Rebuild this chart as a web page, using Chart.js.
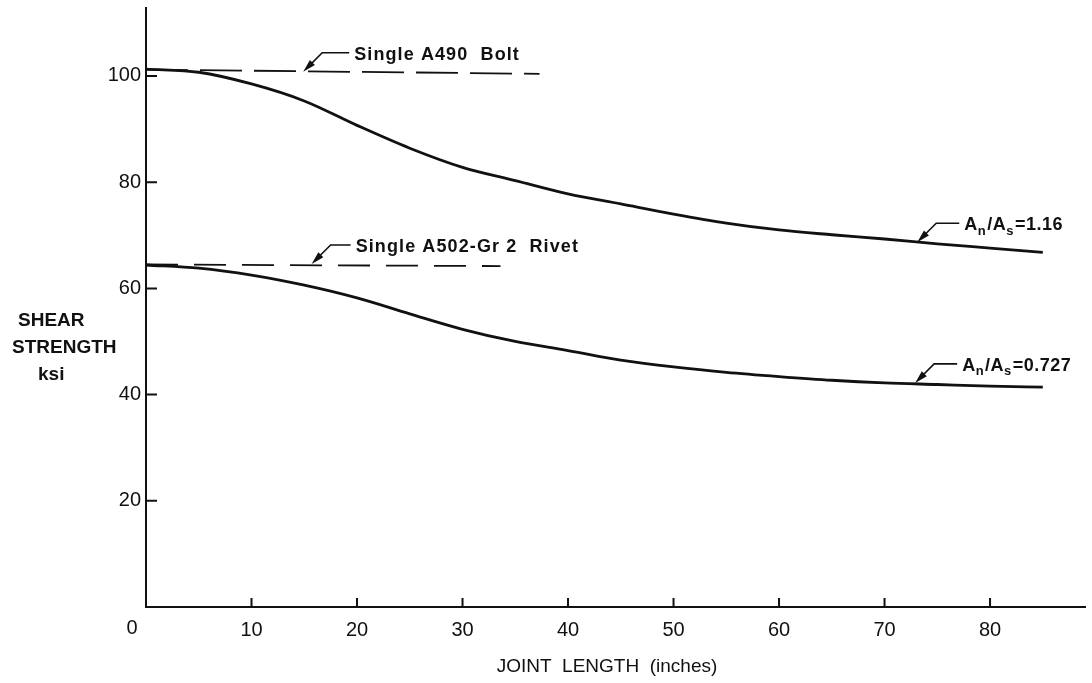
<!DOCTYPE html>
<html lang="en">
<head>
<meta charset="UTF-8">
<title>Shear Strength vs Joint Length</title>
<script src="https://cdn.jsdelivr.net/npm/chart.js"></script>
<style>
  body { margin: 0; background: #fff; }
  #wrap { width: 1092px; height: 683px; }
</style>
</head>
<body>
<div id="wrap"><canvas id="shearChart"></canvas></div>
<script>
// joint length (inches) where both curves were read
const jointLength = [0, 5, 10, 15, 20, 25, 30, 35, 40, 45, 50, 55, 60, 65, 70, 75, 80, 85];
// An/As = 1.16 (A490 bolts)
const shearA490 = [101.3, 100.7, 98.5, 95.3, 90.7, 86.4, 82.8, 80.3, 77.8, 75.9, 74.0, 72.3, 71.0, 70.1, 69.3, 68.4, 67.6, 66.8];
// An/As = 0.727 (A502-Gr 2 rivets)
const shearA502 = [64.4, 63.8, 62.5, 60.6, 58.2, 55.2, 52.3, 50.0, 48.3, 46.5, 45.2, 44.2, 43.4, 42.7, 42.2, 41.9, 41.6, 41.4];

// single fastener strength, dashed
const boltRefX = [0, 37.3];
const boltRefY = [101.2, 100.4];
const rivetRefX = [0, 33.6];
const rivetRefY = [64.5, 64.2];

const xTicks = [0, 10, 20, 30, 40, 50, 60, 70, 80];
const yTicks = [20, 40, 60, 80, 100];

// callouts: arrow tip in data units, text split into [text, isSubscript]
const callouts = [
  { x: 14.9, y: 100.8, spaced: true, gap: 32, parts: [['Single A490  Bolt', false]] },
  { x: 15.7, y: 64.6, spaced: true, gap: 25, parts: [['Single A502-Gr 2  Rivet', false]] },
  { x: 73.1, y: 68.7, gap: 28, parts: [['A', false], ['n', true], ['/A', false], ['s', true], ['=1.16', false]] },
  { x: 72.9, y: 42.2, gap: 28, parts: [['A', false], ['n', true], ['/A', false], ['s', true], ['=0.727', false]] }
];

const toPoints = (xs, ys) => xs.map((x, i) => ({ x: x, y: ys[i] }));
const ink = '#111';
const mainFont = '"Liberation Sans", Arial, sans-serif';

const decor = {
  id: 'decor',
  afterDraw(chart) {
    const ctx = chart.ctx;
    const xs = chart.scales.x, ys = chart.scales.y;
    const area = chart.chartArea;
    ctx.save();
    ctx.strokeStyle = ink;
    ctx.fillStyle = ink;
    ctx.lineWidth = 2;

    // inward tick marks
    ctx.beginPath();
    yTicks.forEach(v => {
      const py = ys.getPixelForValue(v);
      ctx.moveTo(area.left, py);
      ctx.lineTo(area.left + 11, py);
    });
    xTicks.forEach(v => {
      if (v === 0) return;
      const px = xs.getPixelForValue(v);
      ctx.moveTo(px, area.bottom);
      ctx.lineTo(px, area.bottom - 9);
    });
    ctx.stroke();

    // "0" at the origin, set off to the left
    ctx.font = '20px ' + mainFont;
    ctx.textAlign = 'center';
    ctx.textBaseline = 'middle';
    ctx.fillText('0', xs.getPixelForValue(0) - 14, area.bottom + 21);

    // axis titles
    ctx.font = '19px ' + mainFont;
    ctx.fillText('JOINT  LENGTH  (inches)', 607, 667);
    ctx.font = 'bold 19px ' + mainFont;
    ctx.textAlign = 'left';
    ctx.fillText('SHEAR', 18, 321);
    ctx.fillText('STRENGTH', 12, 348);
    ctx.fillText('ksi', 38, 375);

    // callouts with leader and arrowhead
    callouts.forEach(c => {
      const tx = xs.getPixelForValue(c.x), ty = ys.getPixelForValue(c.y);
      const ex = tx + 19, ey = ty - 19;
      const d = Math.hypot(tx - ex, ty - ey);
      const ux = (tx - ex) / d, uy = (ty - ey) / d;
      ctx.lineWidth = 1.6;
      ctx.beginPath();
      ctx.moveTo(tx - ux * 8, ty - uy * 8);
      ctx.lineTo(ex, ey);
      ctx.lineTo(ex + c.gap - 5, ey);
      ctx.stroke();
      ctx.beginPath();
      ctx.moveTo(tx, ty);
      ctx.lineTo(tx - ux * 13 - uy * 3.5, ty - uy * 13 + ux * 3.5);
      ctx.lineTo(tx - ux * 13 + uy * 3.5, ty - uy * 13 - ux * 3.5);
      ctx.closePath();
      ctx.fill();

      let px = ex + c.gap;
      const py = ey + 2;
      ctx.letterSpacing = c.spaced ? '1.1px' : '0.5px';
      c.parts.forEach(([t, sub]) => {
        ctx.font = (sub ? 'bold 13px ' : 'bold 18px ') + mainFont;
        ctx.fillText(t, px, sub ? py + 6 : py);
        px += ctx.measureText(t).width + (sub ? 1 : 0);
      });
      ctx.letterSpacing = '0px';
    });
    ctx.restore();
  }
};

new Chart(document.getElementById('shearChart').getContext('2d'), {
  type: 'line',
  data: {
    datasets: [
      {
        label: 'An/As = 1.16',
        data: toPoints(jointLength, shearA490),
        borderColor: ink, borderWidth: 2.8,
        pointRadius: 0, cubicInterpolationMode: 'monotone'
      },
      {
        label: 'An/As = 0.727',
        data: toPoints(jointLength, shearA502),
        borderColor: ink, borderWidth: 2.8,
        pointRadius: 0, cubicInterpolationMode: 'monotone'
      },
      {
        label: 'Single A490 Bolt',
        data: toPoints(boltRefX, boltRefY),
        borderColor: ink, borderWidth: 1.8, borderDash: [42, 12],
        pointRadius: 0
      },
      {
        label: 'Single A502-Gr 2 Rivet',
        data: toPoints(rivetRefX, rivetRefY),
        borderColor: ink, borderWidth: 1.8, borderDash: [32, 16],
        pointRadius: 0
      }
    ]
  },
  options: {
    responsive: true,
    maintainAspectRatio: false,
    animation: false,
    layout: { padding: { top: 8, right: 7, left: 0, bottom: 0 } },
    plugins: { legend: { display: false }, tooltip: { enabled: false } },
    scales: {
      x: {
        type: 'linear', min: 0, max: 89,
        afterBuildTicks: s => { s.ticks = xTicks.map(v => ({ value: v })); },
        afterFit: s => { s.height = 76; s.paddingLeft = 0; s.paddingRight = 0; },
        grid: { drawOnChartArea: false, drawTicks: false },
        border: { color: ink, width: 2 },
        ticks: {
          color: ink, padding: 11,
          font: { family: mainFont, size: 20 },
          callback: v => (v === 0 ? '' : v)
        }
      },
      y: {
        type: 'linear', min: 0, max: 112.8,
        afterBuildTicks: s => { s.ticks = yTicks.map(v => ({ value: v })); },
        afterFit: s => { s.width = 146; s.paddingTop = 0; s.paddingBottom = 0; },
        grid: { drawOnChartArea: false, drawTicks: false },
        border: { color: ink, width: 2 },
        ticks: {
          color: ink, padding: 5,
          font: { family: mainFont, size: 20 }
        }
      }
    }
  },
  plugins: [decor]
});
</script>
</body>
</html>
